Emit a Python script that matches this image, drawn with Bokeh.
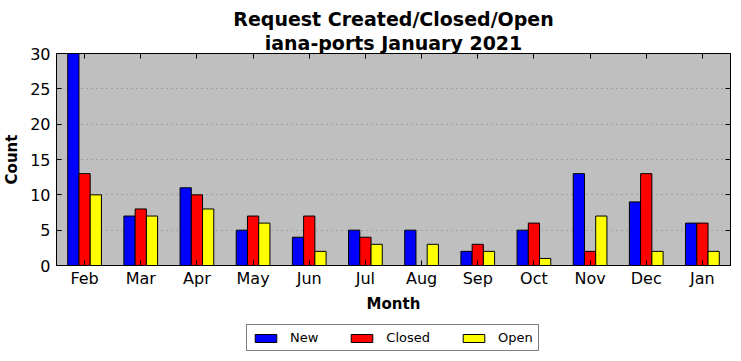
from bokeh.plotting import figure
from bokeh.layouts import column
from bokeh.models import Legend, LegendItem, CategoricalAxis, FactorRange, Range1d, FixedTicker, LinearAxis, Title
from bokeh.transform import dodge
from bokeh.embed import file_html
from bokeh.resources import INLINE
from bokeh.models import ColumnDataSource

months = ["Feb", "Mar", "Apr", "May", "Jun", "Jul", "Aug", "Sep", "Oct", "Nov", "Dec", "Jan"]
new = [30, 7, 11, 5, 4, 5, 5, 2, 5, 13, 9, 6]
closed = [13, 8, 10, 7, 7, 4, 0, 3, 6, 2, 13, 6]
open_ = [10, 7, 8, 6, 2, 3, 3, 2, 1, 7, 2, 2]
y_ticks = [0, 5, 10, 15, 20, 25, 30]
title_lines = ["Request Created/Closed/Open", "iana-ports January 2021"]
series = ["New", "Closed", "Open"]
colors = ["#0000ff", "#ff0000", "#ffff00"]

FONT = "DejaVu Sans"
src = ColumnDataSource(dict(month=months, New=new, Closed=closed, Open=open_))

p = figure(frame_width=674, frame_height=212, x_range=FactorRange(*months, range_padding=0),
           y_range=Range1d(0, 30), output_backend="svg", toolbar_location=None,
           min_border_left=49, min_border_right=2, min_border_top=53, min_border_bottom=53)

p.background_fill_color = "#bfbfbf"
p.outline_line_color = "black"
p.outline_line_width = 1

offsets = [-0.2, 0.0, 0.2]
for name, off, col in zip(series, offsets, colors):
    p.vbar(x=dodge("month", off, range=p.x_range), top=name, width=0.2, source=src,
           fill_color=col, line_color="black", line_width=1)

p.xgrid.grid_line_color = None
p.ygrid.grid_line_color = "#808080"
p.ygrid.grid_line_dash = "1 4"
p.ygrid.grid_line_width = 1

p.yaxis.ticker = FixedTicker(ticks=y_ticks)
for ax in [p.xaxis[0], p.yaxis[0]]:
    ax.major_tick_in = 5
    ax.major_tick_out = 0
    ax.minor_tick_in = 0
    ax.minor_tick_out = 0
    ax.axis_line_color = "black"
    ax.major_tick_line_color = "black"
    ax.major_label_text_font = FONT
    ax.major_label_text_font_size = "16px"
    ax.major_label_text_color = "black"
    ax.axis_label_text_font = FONT
    ax.axis_label_text_font_size = "15px"
    ax.axis_label_text_font_style = "bold"
    ax.axis_label_text_color = "black"

p.xaxis.axis_label = "Month"
p.yaxis.axis_label = "Count"
p.xaxis.major_label_standoff = 3
p.xaxis.axis_label_standoff = 4
p.yaxis.major_label_standoff = 6
p.yaxis.axis_label_standoff = 6

top_ax = CategoricalAxis(major_tick_in=5, major_tick_out=0, major_label_text_font_size="0px",
                         axis_line_color="black", major_tick_line_color="black")
right_ax = LinearAxis(ticker=FixedTicker(ticks=y_ticks), major_tick_in=5, major_tick_out=0,
                      minor_tick_in=0, minor_tick_out=0, major_label_text_font_size="0px",
                      axis_line_color="black", major_tick_line_color="black")
top_ax.major_label_text_color = None
right_ax.major_label_text_color = None
p.add_layout(top_ax, "above")
p.add_layout(right_ax, "right")

for line in reversed(title_lines):
    t = Title(text=line, align="center", text_font=FONT, text_font_size="19px",
              text_font_style="bold", text_color="black", standoff=0)
    p.add_layout(t, "above")

# legend strip below the chart (hidden copies of the bar renderers feed its glyphs)
q = figure(width=725, height=34, output_backend="svg", toolbar_location=None,
           x_range=FactorRange(*months, range_padding=0), y_range=Range1d(0, 30),
           x_axis_type=None, y_axis_type=None, min_border=0,
           min_border_left=0, min_border_right=0, min_border_top=0, min_border_bottom=0)
q.outline_line_color = None
q.xgrid.visible = False
q.ygrid.visible = False
items = []
for name, off, col in zip(series, offsets, colors):
    r = q.vbar(x=dodge("month", off, range=q.x_range), top=name, width=0.2, source=src,
               fill_color=col, line_color="black", line_width=1, visible=False)
    items.append(LegendItem(label=name, renderers=[r]))

legend = Legend(items=items, orientation="horizontal", location=(190, 1))
legend.border_line_color = "black"
legend.border_line_width = 1
legend.background_fill_color = "white"
legend.background_fill_alpha = 1
legend.inactive_fill_alpha = 0
legend.label_text_font = FONT
legend.label_text_font_size = "13px"
legend.label_text_color = "black"
legend.glyph_width = 27
legend.glyph_height = 10
legend.spacing = 30
legend.padding = 5
legend.margin = 0
legend.label_standoff = 11
q.add_layout(legend, "center")

layout = column(p, q, spacing=0)
open("out.html", "w").write(file_html(layout, INLINE))
